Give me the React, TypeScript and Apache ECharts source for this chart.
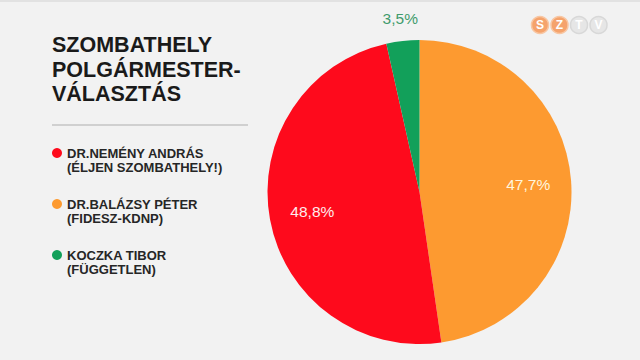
import React, { useEffect, useRef } from 'react';
import * as echarts from 'echarts';

const candidates = ['DR.BALÁZSY PÉTER', 'DR.NEMÉNY ANDRÁS', 'KOCZKA TIBOR'];
const parties = ['(FIDESZ-KDNP)', '(ÉLJEN SZOMBATHELY!)', '(FÜGGETLEN)'];
const shares = [47.7, 48.8, 3.5];
const sliceColors = ['#fd9a30', '#fe0a1c', '#12a05a'];
const labelColors = ['#fff6dc', '#ffecec', '#3f9b6c'];
const legendOrder = ['DR.NEMÉNY ANDRÁS', 'DR.BALÁZSY PÉTER', 'KOCZKA TIBOR'];
const titleLines = ['SZOMBATHELY', 'POLGÁRMESTER-', 'VÁLASZTÁS'];
const logoLetters = ['S', 'Z', 'T', 'V'];
const logoOn = [true, true, false, false];

const FONT = '"Liberation Sans", Arial, Helvetica, sans-serif';
const fmt = (p: any) => Number(p.value).toFixed(1).replace('.', ',') + '%';

export default function App() {
  const ref = useRef<HTMLDivElement>(null);
  useEffect(() => {
    if (!ref.current) return;
    const chart = echarts.init(ref.current, undefined, { renderer: 'svg' });
    const center = [419.5, 192];
    const base = {
      type: 'pie',
      center,
      startAngle: 90,
      clockwise: true,
      animation: false,
      emphasis: { disabled: true },
      labelLine: { show: false },
    };
    const logo = logoLetters.map((ch, i) => ({
      type: 'group',
      x: 540 + i * 19.5,
      y: 25,
      children: [
        {
          type: 'circle',
          shape: { cx: 0, cy: 0, r: 8.5 },
          style: {
            fill: logoOn[i] ? '#f5a36c' : '#e6e6e6',
            stroke: logoOn[i] ? '#f8c6a2' : '#d8d8d8',
            lineWidth: 1.5,
          },
        },
        {
          type: 'text',
          x: 0,
          y: 0,
          style: {
            text: ch,
            fill: '#ffffff',
            font: 'bold 12px ' + FONT,
            align: 'center',
            verticalAlign: 'middle',
          },
        },
      ],
    }));
    chart.setOption({
      animation: false,
      backgroundColor: '#f2f2f2',
      title: {
        text: titleLines.join('\n'),
        left: 52,
        top: 33,
        padding: 0,
        textStyle: {
          fontFamily: FONT,
          fontSize: 21.5,
          fontWeight: 'bold',
          color: '#1a1a1a',
          lineHeight: 24.5,
        },
      },
      legend: {
        data: legendOrder,
        orient: 'vertical',
        left: 52,
        top: 132,
        padding: 0,
        itemWidth: 10,
        itemHeight: 10,
        icon: 'circle',
        itemGap: 9,
        selectedMode: false,
        formatter: (name: string) => ' \n' + name + '\n' + parties[candidates.indexOf(name)],
        textStyle: {
          fontFamily: FONT,
          fontSize: 13,
          fontWeight: 'bold',
          color: '#262626',
          lineHeight: 14,
        },
      },
      graphic: [
        { type: 'rect', shape: { x: 0, y: 0, width: 640, height: 2 }, style: { fill: '#e2e2e2' } },
        {
          type: 'line',
          shape: { x1: 52, y1: 125, x2: 248, y2: 125 },
          style: { stroke: '#c4c4c4', lineWidth: 1.5 },
        },
        ...logo,
      ],
      series: [
        {
          ...base,
          radius: 152,
          silent: true,
          label: { show: false },
          data: candidates.map((n, i) => ({
            name: n,
            value: shares[i],
            itemStyle: { color: sliceColors[i] },
          })),
        },
        {
          ...base,
          radius: [60, 152],
          silent: true,
          data: candidates.map((n, i) => ({
            name: n,
            value: shares[i],
            itemStyle: { color: 'rgba(0,0,0,0)' },
            label: {
              show: i !== 2,
              position: 'inside',
              formatter: fmt,
              color: labelColors[i],
              fontFamily: FONT,
              fontSize: 15.5,
            },
          })),
        },
        {
          ...base,
          radius: [156, 188],
          silent: true,
          data: candidates.map((n, i) => ({
            name: n,
            value: shares[i],
            itemStyle: { color: 'rgba(0,0,0,0)' },
            label: {
              show: i === 2,
              position: 'inside',
              formatter: fmt,
              color: labelColors[i],
              fontFamily: FONT,
              fontSize: 15.5,
            },
          })),
        },
      ],
    });
    return () => chart.dispose();
  }, []);
  return (
    <div
      ref={ref}
      style={{ position: 'fixed', left: 0, top: 0, width: 640, height: 360 }}
    />
  );
}
